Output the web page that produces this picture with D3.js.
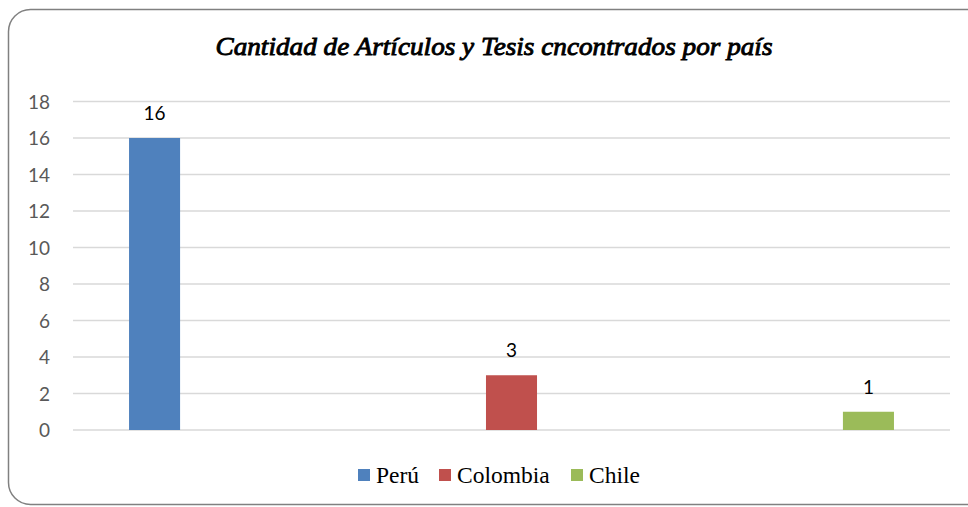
<!DOCTYPE html>
<html><head><meta charset="utf-8">
<script src="https://cdn.jsdelivr.net/npm/d3@7"></script>
<style>body{margin:0;background:#fff}svg{display:block}</style>
</head><body><svg id="c" width="968" height="507"></svg>
<script>
const title = "Cantidad de Artículos y Tesis cncontrados por país";
const series = ["Perú", "Colombia", "Chile"];
const values = [16, 3, 1];
const colors = ["#4f81bd", "#c0504d", "#9bbb59"];
const yTicks = [0, 2, 4, 6, 8, 10, 12, 14, 16, 18];

const svg = d3.select("#c");
svg.append("rect").attr("x", 8.5).attr("y", 9.5).attr("width", 990).attr("height", 495)
  .attr("rx", 22).attr("ry", 22).attr("fill", "#fff").attr("stroke", "#808080").attr("stroke-width", 1.5);

const x0 = 73, x1 = 950;
const y = d3.scaleLinear().domain([0, 18]).range([430, 101.5]);
const x = d3.scaleBand().domain(series).range([x0, x1]).paddingInner(0.857).paddingOuter(0.157);

svg.append("g").selectAll("line").data(yTicks).join("line")
  .attr("x1", x0).attr("x2", x1).attr("y1", d => y(d)).attr("y2", d => y(d))
  .attr("stroke", "#d9d9d9").attr("stroke-width", 1.5);

const yAxis = d3.axisLeft(y).tickValues(yTicks).tickSize(0).tickPadding(0);
const ga = svg.append("g").attr("transform", "translate(50,0)").call(yAxis);
ga.select(".domain").remove();
ga.selectAll("text").attr("font-family", "Lato, 'Open Sans', sans-serif").attr("font-size", 19).attr("fill", "#595959").attr("dy", "0.36em");

svg.append("g").selectAll("rect").data(series).join("rect")
  .attr("x", d => x(d)).attr("width", x.bandwidth())
  .attr("y", (d, i) => y(values[i])).attr("height", (d, i) => y(0) - y(values[i]))
  .attr("fill", (d, i) => colors[i]);

svg.append("g").selectAll("text").data(series).join("text")
  .attr("x", d => x(d) + x.bandwidth() / 2).attr("y", (d, i) => y(values[i]) - 18)
  .attr("text-anchor", "middle").attr("font-family", "Lato, 'Open Sans', sans-serif").attr("font-size", 19).attr("fill", "#000")
  .text((d, i) => values[i]);

svg.append("text").attr("x", 494).attr("y", 55).attr("text-anchor", "middle")
  .attr("font-family", "Liberation Serif").attr("font-style", "italic")
  .attr("font-size", 26).attr("fill", "#000").attr("stroke", "#000").attr("stroke-width", 0.9)
  .attr("textLength", 557).attr("lengthAdjust", "spacingAndGlyphs").text(title);

const legX = [358, 439, 571];
const lg = svg.append("g").selectAll("g").data(series).join("g")
  .attr("transform", (d, i) => `translate(${legX[i]},469)`);
lg.append("rect").attr("width", 12).attr("height", 12).attr("fill", (d, i) => colors[i]);
lg.append("text").attr("x", 18).attr("y", 14).attr("font-family", "Liberation Serif")
  .attr("font-size", 23.5).attr("fill", "#000").text(d => d);
</script></body></html>
